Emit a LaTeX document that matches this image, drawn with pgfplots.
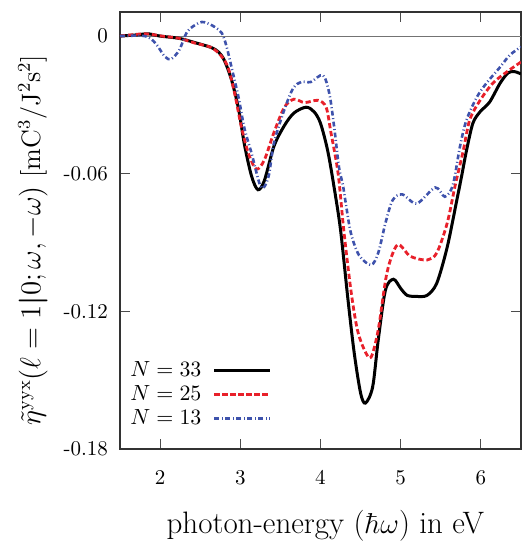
\documentclass[border=0pt]{standalone}
\usepackage{amsmath}
\usepackage{pgfplots}
\pgfplotsset{compat=1.18}

\definecolor{curvered}{RGB}{232,32,42}
\definecolor{curveblue}{RGB}{62,82,172}

\begin{document}
\begin{tikzpicture}
\path[use as bounding box] (-60pt,-48.5pt) rectangle (202.5pt,224.5pt);
\begin{axis}[
  scale only axis,
  width=200.5pt, height=218.5pt,
  xmin=1.5, xmax=6.5,
  ymin=-0.18, ymax=0.0105,
  xtick={2,3,4,5,6},
  xticklabels={2,3,4,5,6},
  ytick={-0.18,-0.12,-0.06,0},
  yticklabels={-0.18,-0.12,-0.06,0},
  tick align=inside,
  major tick length=5pt,
  minor tick num=0,
  axis line style={black!80, line width=0.6pt},
  every tick/.style={black!70, line width=0.5pt},
  tick label style={font=\fontsize{10.5}{12}\selectfont},
  xticklabel style={yshift=-7pt},
  yticklabel style={xshift=-2.5pt},
  xlabel={photon-energy ($\hbar\omega$) in eV},
  xlabel style={at={(axis description cs:0.512,-0.176)}, anchor=center,
    font=\fontsize{15.5}{18}\selectfont},
  ylabel={$\tilde{\eta}^{\mathrm{yyx}}(\ell=1\boldsymbol{|}0;\omega,-\omega)$ [mC$^3$/J$^2$s$^2$]},
  ylabel style={at={(axis description cs:-0.217,0.478)}, anchor=center,
    font=\fontsize{13.3}{15}\selectfont},
  legend plot pos=right,
  legend cell align=left,
  legend style={draw=none, fill=none, at={(axis description cs:0.0,0.03)},
    anchor=south west, font=\fontsize{10.8}{13}\selectfont, row sep=-1pt,
    /tikz/every even column/.append style={column sep=7pt}},
  legend image code/.code={\path (0cm,0cm); \draw[#1] (0.13cm,0cm) -- (1.1cm,0cm);},
]
% reference line at zero
\addplot[black!55, line width=0.5pt, forget plot] coordinates {(1.5,0) (6.5,0)};

% N = 33
\addplot[black, line width=1.5pt, smooth] coordinates {
 (1.5,0) (1.7,0.0005) (1.85,0.001) (2.0,0.0) (2.24,-0.001) (2.45,-0.003)
 (2.64,-0.005) (2.73,-0.007) (2.80,-0.0105) (2.89,-0.019) (2.98,-0.032)
 (3.05,-0.047) (3.14,-0.061) (3.22,-0.067) (3.30,-0.063) (3.42,-0.048)
 (3.55,-0.039) (3.67,-0.0335) (3.82,-0.031) (3.92,-0.033) (4.0,-0.038)
 (4.09,-0.050) (4.17,-0.066) (4.25,-0.0845) (4.34,-0.114) (4.42,-0.138)
 (4.50,-0.1556) (4.56,-0.160) (4.65,-0.153) (4.72,-0.1325) (4.81,-0.1107)
 (4.91,-0.106) (5.00,-0.110) (5.08,-0.113) (5.20,-0.1135) (5.33,-0.113)
 (5.45,-0.1077) (5.58,-0.092) (5.70,-0.0715) (5.76,-0.061) (5.82,-0.050)
 (5.90,-0.038) (5.99,-0.033) (6.11,-0.0287) (6.24,-0.0205) (6.34,-0.016)
 (6.42,-0.0155) (6.5,-0.0165)
};
\addlegendentry{$N=33$}

% N = 25
\addplot[curvered, line width=1.4pt, smooth, dash pattern=on 2.6pt off 1.4pt] coordinates {
 (1.5,0) (1.81,0.001) (2.02,0.0) (2.24,-0.001) (2.43,-0.003) (2.64,-0.005)
 (2.77,-0.009) (2.85,-0.014) (2.93,-0.025) (3.01,-0.039) (3.10,-0.051)
 (3.20,-0.058) (3.30,-0.054) (3.42,-0.042) (3.55,-0.031) (3.67,-0.0275)
 (3.80,-0.029) (3.97,-0.028) (4.07,-0.031) (4.13,-0.042) (4.22,-0.060)
 (4.29,-0.0845) (4.38,-0.111) (4.46,-0.128) (4.55,-0.137) (4.63,-0.140)
 (4.72,-0.128) (4.83,-0.103) (4.96,-0.091) (5.12,-0.096) (5.33,-0.0976)
 (5.45,-0.0945) (5.58,-0.0815) (5.68,-0.065) (5.78,-0.050) (5.86,-0.0366)
 (5.99,-0.028) (6.15,-0.0205) (6.32,-0.0157) (6.5,-0.0113)
};
\addlegendentry{$N=25$}

% N = 13
\addplot[curveblue, line width=1.3pt, smooth,
  dash pattern=on 2.4pt off 1.3pt on 0.5pt off 1.3pt] coordinates {
 (1.5,0) (1.81,0) (1.94,-0.003) (2.06,-0.009) (2.14,-0.010) (2.24,-0.006)
 (2.34,0.002) (2.48,0.0057) (2.56,0.006) (2.68,0.004) (2.77,0.0013)
 (2.83,-0.0047) (2.89,-0.0135) (2.98,-0.027) (3.05,-0.040) (3.14,-0.051)
 (3.26,-0.066) (3.35,-0.0615) (3.42,-0.0466) (3.55,-0.032) (3.66,-0.0227)
 (3.76,-0.020) (3.88,-0.020) (4.03,-0.017) (4.11,-0.025) (4.17,-0.0395)
 (4.23,-0.057) (4.28,-0.065) (4.32,-0.074) (4.38,-0.086) (4.48,-0.0955)
 (4.63,-0.0998) (4.72,-0.0945) (4.81,-0.0815) (4.90,-0.0715) (5.02,-0.069)
 (5.20,-0.073) (5.43,-0.066) (5.55,-0.070) (5.65,-0.065) (5.74,-0.048)
 (5.82,-0.0366) (5.95,-0.0266) (6.07,-0.0205) (6.24,-0.0135) (6.36,-0.0083)
 (6.5,-0.0047)
};
\addlegendentry{$N=13$}
\end{axis}
\end{tikzpicture}
\end{document}
